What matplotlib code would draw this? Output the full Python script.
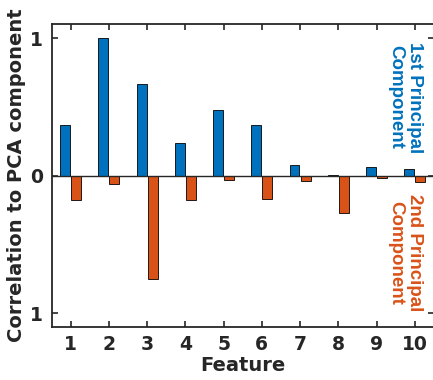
import matplotlib
matplotlib.use("Agg")
import matplotlib.pyplot as plt
import numpy as np

features = [1, 2, 3, 4, 5, 6, 7, 8, 9, 10]
pc1 = [0.37, 1.0, 0.666, 0.235, 0.477, 0.37, 0.08, 0.007, 0.06, 0.046]
pc2 = [-0.175, -0.063, -0.75, -0.175, -0.03, -0.174, -0.036, -0.27, -0.017, -0.049]
ytick_vals = [-1, 0, 1]
ytick_labels = ["1", "0", "1"]

blue = "#0072BD"
orange = "#D95319"
dark = "#262626"

plt.rcParams["font.family"] = "DejaVu Sans"
plt.rcParams["font.weight"] = "bold"

fig = plt.figure(figsize=(4.33, 3.8), dpi=100)
ax = fig.add_axes([0.119, 0.140, 0.883, 0.796])

x = np.array(features)
w = 0.26
ax.bar(x - 0.145, pc1, width=w, color=blue, edgecolor="black", linewidth=0.6, zorder=2)
ax.bar(x + 0.145, pc2, width=w, color=orange, edgecolor="black", linewidth=0.6, zorder=2)
ax.axhline(0, color=dark, linewidth=1.0, zorder=3)

ax.set_xlim(0.5, 10.5)
ax.set_ylim(-1.1, 1.1)
ax.set_xticks(features)
ax.set_yticks(ytick_vals)
ax.set_yticklabels(ytick_labels)
ax.tick_params(direction="in", length=4, width=1.2, color=dark, labelsize=13.5,
               top=True, right=True, labelcolor=dark, pad=6)
for lab in ax.get_xticklabels() + ax.get_yticklabels():
    lab.set_fontweight("bold")
for s in ax.spines.values():
    s.set_color(dark)
    s.set_linewidth(1.3)

ax.set_xlabel("Feature", fontsize=14, fontweight="bold", color=dark, labelpad=1)
ax.set_ylabel("Correlation to PCA component", fontsize=14, fontweight="bold", color=dark, labelpad=3)

# side labels for the two components
ax.text(9.75, 0.57, "1st Principal\nComponent", rotation=-90, color=blue,
        family="Liberation Sans", fontsize=13.5, fontweight="bold",
        ha="center", va="center", linespacing=1.1)
ax.text(9.75, -0.56, "2nd Principal\nComponent", rotation=-90, color=orange,
        family="Liberation Sans", fontsize=13.5, fontweight="bold",
        ha="center", va="center", linespacing=1.1)

fig.savefig("out.png", dpi=100)
